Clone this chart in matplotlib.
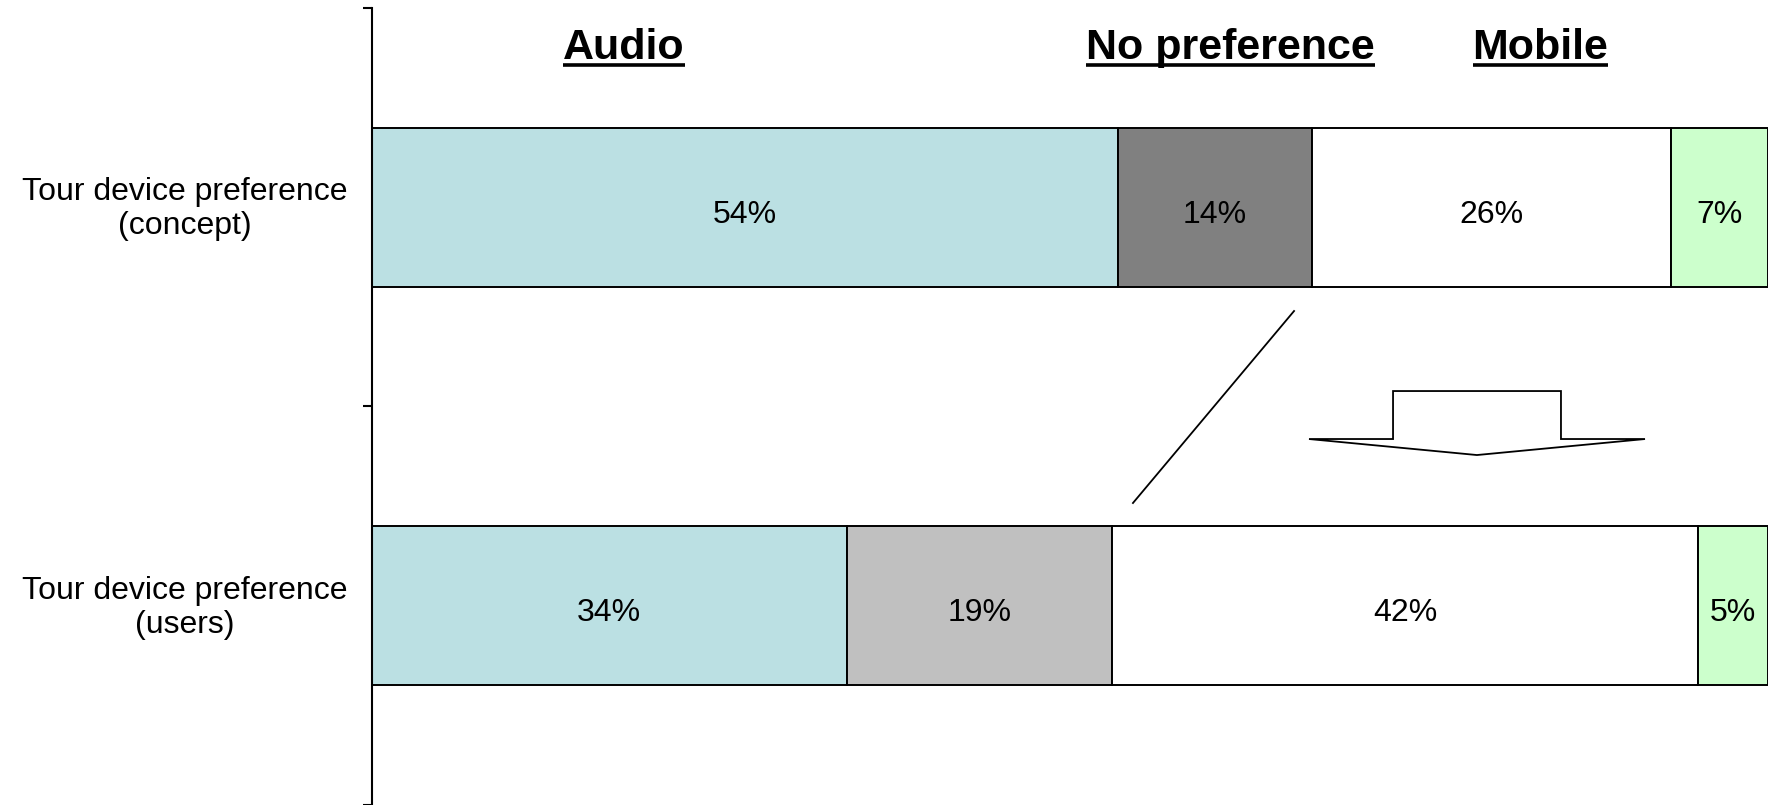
import numpy as np
import matplotlib
matplotlib.use('Agg')
import matplotlib.pyplot as plt
from matplotlib.patches import Polygon
from matplotlib.lines import Line2D
from matplotlib.transforms import blended_transform_factory

plt.rcParams['font.family'] = ['Liberation Sans', 'DejaVu Sans']

# survey answers, in percent, one list per row
rows = ['Tour device preference\n(concept)', 'Tour device preference\n(users)']
concept = [54, 14, 26, 7]
users = [34, 19, 42, 5]

headers = ['Audio', 'No preference', 'Mobile']
header_x = [0.1805, 0.615, 0.837]

fills = [['#BBE0E3', '#808080', '#FFFFFF', '#CCFFCC'],
         ['#BBE0E3', '#C0C0C0', '#FFFFFF', '#CCFFCC']]

W, H = 1769, 805
fig = plt.figure(figsize=(W / 100, H / 100), dpi=100)
ax = fig.add_axes([372 / W, 0, 1396 / W, 797 / H])

# 100% stacked bars
for i, vals in enumerate([concept, users]):
    shares = np.array(vals) / sum(vals) * 100
    left = 0
    for j, (v, s) in enumerate(zip(vals, shares)):
        ax.barh(i, s, left=left, height=0.4, color=fills[i][j],
                edgecolor='black', linewidth=1.4)
        ax.text(left + s / 2, i + 0.039, f'{v}%', ha='center', va='baseline', fontsize=23)
        left += s

ax.set_xlim(0, 100)
ax.set_ylim(1.5, -0.5)
ax.xaxis.set_visible(False)
for side in ['top', 'right', 'bottom']:
    ax.spines[side].set_visible(False)
ax.spines['left'].set_linewidth(1.5)
ax.set_yticks([-0.5, 0.5, 1.5])
ax.set_yticklabels([])
ax.tick_params(axis='y', direction='out', length=6.5, width=1.5)

# row labels, centred to the left of the axis
trans = blended_transform_factory(fig.transFigure, ax.transData)
for i, label in enumerate(rows):
    ax.text(185 / W, i + 0.005, label, transform=trans, ha='center', va='center',
            fontsize=23, multialignment='center', linespacing=1.17)

# bold underlined headers above the bars
head_texts = []
for hx, h in zip(header_x, headers):
    t = ax.text(hx, 0.936, h, transform=ax.transAxes, ha='center', va='baseline',
                fontsize=31, fontweight='bold')
    head_texts.append(t)

fig.canvas.draw()
renderer = fig.canvas.get_renderer()
for t in head_texts:
    bb = t.get_window_extent(renderer)
    y = (H - 65) / H
    fig.add_artist(Line2D([bb.x0 / W, bb.x1 / W], [y, y], transform=fig.transFigure,
                          color='black', linewidth=2.6, solid_capstyle='butt'))

# shift line and block arrow between the rows
ax.add_line(Line2D([0.6605, 0.5451], [0.6198, 0.3789], transform=ax.transAxes,
                   color='black', linewidth=1.3, clip_on=False))
arrow_pts = [(0.7314, 0.5194), (0.8517, 0.5194), (0.8517, 0.4592), (0.9119, 0.4592),
             (0.7915, 0.4391), (0.6712, 0.4592), (0.7314, 0.4592)]
ax.add_patch(Polygon(arrow_pts, closed=True, transform=ax.transAxes,
                     facecolor='white', edgecolor='black', linewidth=1.3))

fig.savefig('out.png', dpi=100)
